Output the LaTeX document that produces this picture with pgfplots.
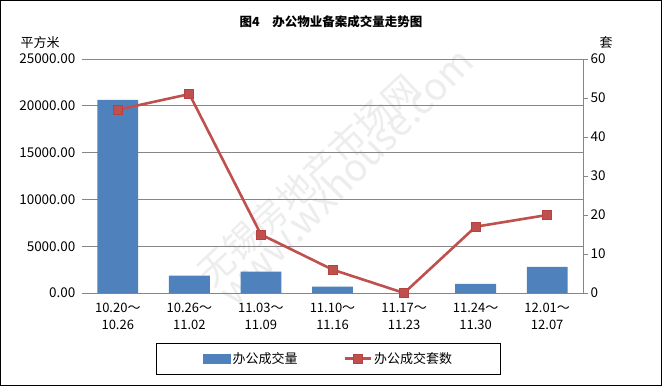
\documentclass[border=0pt]{standalone}
\usepackage{pgfplots}
\pgfplotsset{compat=1.18}
\usepackage{fontspec}
\setmainfont{Noto Sans CJK SC}
\definecolor{barblue}{HTML}{4F81BD}
\definecolor{linered}{HTML}{C0504D}
\definecolor{markred}{HTML}{B8423F}
\definecolor{gridgray}{HTML}{868686}
\begin{document}
\begin{tikzpicture}[x=1pt,y=1pt]
\useasboundingbox (0pt,0pt) rectangle (662pt,386pt);
\fill[white] (0pt,0pt) rectangle (662pt,386pt);
% watermark
\node[rotate=43, text=black!7, font=\fontsize{36}{36}\selectfont] at (308pt,206pt) {无锡房地产市场网};
\node[rotate=45.5, text=black!7, font=\fontsize{38}{38}\selectfont] at (345pt,210pt) {www.wxhouse.com};
\begin{axis}[
  at={(82pt,93pt)}, anchor=south west, scale only axis,
  width=501pt, height=234pt,
  xmin=-0.5, xmax=6.5, ymin=0, ymax=25000,
  axis x line*=bottom, axis y line*=left,
  x axis line style={draw=gridgray, -},
  y axis line style={draw=none},
  tick style={draw=none},
  ytick={0,5000,...,25000},
  ymajorgrids, grid style={gridgray, line width=0.8pt},
  xtick={0,...,6},
  xticklabels={{10.20～\\10.26},{10.26～\\11.02},{11.03～\\11.09},{11.10～\\11.16},{11.17～\\11.23},{11.24～\\11.30},{12.01～\\12.07}},
  xticklabel style={align=center, font=\fontsize{13}{17}\selectfont, yshift=-7pt},
  yticklabel style={font=\fontsize{13.5}{14}\selectfont, xshift=-3pt},
  /pgf/number format/assume math mode=true,
  yticklabel={\pgfmathprintnumber[fixed, fixed zerofill, precision=2, 1000 sep={}]{\tick}},
  scaled y ticks=false,
]
\addplot[ybar, bar width=0.57, bar shift=0pt, fill=barblue, draw=none] coordinates {
  (0,20620) (1,1850) (2,2280) (3,680) (4,0) (5,980) (6,2790)
};
\end{axis}
\begin{axis}[
  at={(82pt,93pt)}, anchor=south west, scale only axis,
  width=501pt, height=234pt,
  xmin=-0.5, xmax=6.5, ymin=0, ymax=60,
  axis x line=none, axis y line*=right,
  y axis line style={draw=gridgray, line width=0.8pt, -},
  ytick={0,10,...,60},
  ytick style={draw=gridgray, line width=0.8pt},
  tick align=outside, major tick length=5pt,
  yticklabel style={font=\fontsize{13.5}{14}\selectfont, xshift=-1pt},
  /pgf/number format/assume math mode=true,
  legend image code/.code={\draw[mark repeat=2,mark phase=2,#1] plot coordinates {(0pt,0pt) (13pt,0pt) (26pt,0pt)};},
  legend style={at={(0.492,-0.214)}, anchor=north, draw=black, line width=0.8pt,
    font=\fontsize{13}{15}\selectfont, legend columns=2,
    inner xsep=46pt, inner ysep=7pt,
    /tikz/every even column/.append style={column sep=44pt}},
]
\addlegendimage{legend image code/.code={\fill[barblue] (0pt,-4.5pt) rectangle (27pt,4.5pt);}}
\addlegendentry{办公成交量}
\addplot[linered, line width=2.6pt, mark=square*, mark size=4.5pt,
  mark options={fill=linered, draw=markred, line width=0.8pt}]
  coordinates {(0,47) (1,51) (2,15) (3,6) (4,0) (5,17) (6,20)};
\addlegendentry{办公成交套数}
\end{axis}
\node[font=\bfseries\fontsize{12.5}{14}\selectfont] at (331pt,364pt) {图4\quad 办公物业备案成交量走势图};
\node[font=\fontsize{13}{14}\selectfont] at (40pt,343pt) {平方米};
\node[font=\fontsize{13}{14}\selectfont] at (606pt,343pt) {套};
\draw[black, line width=1pt] (0.5pt,0.5pt) rectangle (661.5pt,385.5pt);
\end{tikzpicture}
\end{document}
